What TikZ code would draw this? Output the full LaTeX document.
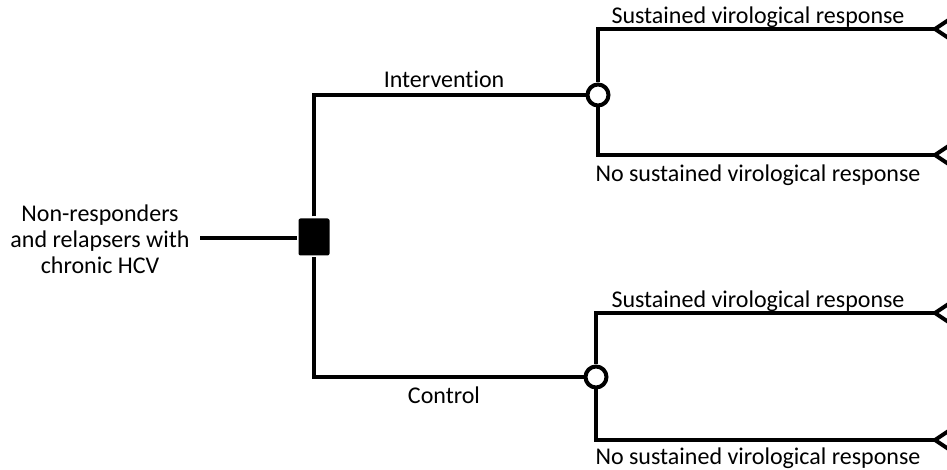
\documentclass[tikz,border=0pt]{standalone}
\usepackage{fontspec}
\setmainfont{Carlito}[Ligatures=NoCommon]

\begin{document}
\begin{tikzpicture}[x=1bp, y=-1bp, line width=4bp,
        lbl/.style={font=\fontsize{24bp}{26bp}\selectfont, inner sep=0pt},
        decision/.style={fill=black, rounded corners=2bp, minimum width=31bp, minimum height=37bp, inner sep=0pt},
        chance/.style={circle, draw, fill=white, minimum size=21bp, inner sep=0pt},
        terminal/.style={line join=miter}]
            \useasboundingbox (0,0) rectangle (947,470);
            \clip             (0,0) rectangle (947,470);
            % nodes
            \node[lbl, align=center] (src)  at (100,239) {Non-responders\\and relapsers with\\chronic HCV};
            \node[decision]          (dec)  at (314,237) {};
            \node[chance]            (ch1)  at (598, 95) {};
            \node[chance]            (ch2)  at (596,377) {};
            \coordinate              (s0)   at (200,238);
            \coordinate              (e1)   at (935, 29);
            \coordinate              (e2)   at (935,155);
            \coordinate              (e3)   at (935,313);
            \coordinate              (e4)   at (935,440);
            % branches
            \draw (s0) -- (s0 -| dec.west);
            \draw (dec) -- (dec |- ch1) -- (ch1);
            \draw (dec) -- (dec |- ch2) -- (ch2);
            \draw (ch1) -- (ch1 |- e1) -- (e1);
            \draw (ch1) -- (ch1 |- e2) -- (e2);
            \draw (ch2) -- (ch2 |- e3) -- (e3);
            \draw (ch2) -- (ch2 |- e4) -- (e4);
            % terminals
            \foreach \e in {e1,e2,e3,e4}
                \draw[terminal] (\e) -- ++(30,-20) -- ++(0,40) -- cycle;
            % labels
            \node[lbl] (int)  at (444, 79) {Intervention};
            \node[lbl] (ctl)  at (444,395) {Control};
            \node[lbl] (svr1) at (758, 17) {Sustained virological response};
            \node[lbl] (nsv1) at (758,175) {No sustained virological response};
            \node[lbl] (svr2) at (758,301) {Sustained virological response};
            \node[lbl] (nsv2) at (758,458) {No sustained virological response};
        \end{tikzpicture}
\end{document}
